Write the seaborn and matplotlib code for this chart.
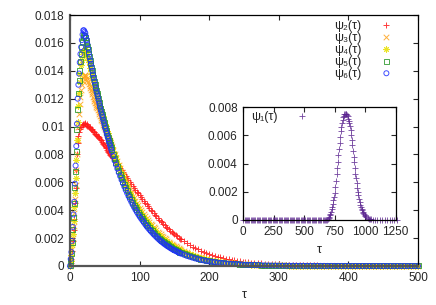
import numpy as np
import seaborn as sns
import matplotlib
matplotlib.use("Agg")
import matplotlib.pyplot as plt
from matplotlib.ticker import FuncFormatter

# main plot: tau grid, step 1 near the peak, coarser in the tail
tau = np.concatenate([np.arange(0, 61), np.arange(62, 161, 2), np.arange(164, 261, 4), np.arange(265, 501, 5)])

# psi values, in units of 1e-3
psi2 = [0.0, 0.2, 0.5, 1.1, 1.8, 2.6, 3.4, 4.5, 5.6, 6.9, 8.0, 8.8, 9.3, 9.6, 9.8, 9.95, 10.0, 10.1, 10.1, 10.2,
        10.15, 10.25, 10.2, 10.1, 10.15, 10.05, 10.05, 9.95, 9.95, 9.9, 9.85, 9.8, 9.75, 9.7, 9.6, 9.6, 9.5, 9.45, 9.4, 9.35,
        9.3, 9.22, 9.18, 9.1, 9.05, 9.0, 8.9, 8.85, 8.75, 8.7, 8.6, 8.52, 8.45, 8.35, 8.28, 8.2, 8.13, 8.05, 7.99, 7.92,
        7.85,
        7.71, 7.57, 7.43, 7.29, 7.15, 7.01, 6.87, 6.73, 6.59, 6.45, 6.31, 6.17, 6.03, 5.89, 5.75, 5.61, 5.47, 5.34, 5.22, 5.1,
        4.96, 4.82, 4.68, 4.55, 4.42, 4.29, 4.16, 4.04, 3.92, 3.8, 3.68, 3.56, 3.44, 3.33, 3.22, 3.12, 3.01, 2.91, 2.81, 2.72,
        2.63, 2.54, 2.46, 2.37, 2.28, 2.2, 2.12, 2.04, 1.97, 1.9,
        1.76, 1.63, 1.51, 1.39, 1.29, 1.19, 1.1, 1.02, 0.94, 0.87, 0.8, 0.74, 0.68, 0.63, 0.58, 0.53, 0.49, 0.45, 0.42, 0.38,
        0.35, 0.32, 0.3, 0.27, 0.25,
        0.225, 0.205, 0.185, 0.167, 0.151, 0.137, 0.124, 0.112, 0.101, 0.091, 0.082, 0.074, 0.067, 0.06, 0.054, 0.049,
        0.044, 0.04, 0.036, 0.032, 0.029, 0.026, 0.024, 0.021, 0.019, 0.017, 0.016, 0.014, 0.013, 0.011, 0.01, 0.009,
        0.008, 0.007, 0.007, 0.006, 0.005, 0.005, 0.004, 0.004, 0.004, 0.003, 0.003, 0.003, 0.002, 0.002, 0.002, 0.002]
psi3 = [0.0, 0.25, 0.6, 1.2, 2.0, 2.9, 3.8, 4.8, 5.8, 6.9, 8.0, 9.0, 10.0, 10.9, 11.6, 12.1, 12.6, 13.0, 13.3, 13.5,
        13.6, 13.7, 13.7, 13.6, 13.5, 13.35, 13.2, 13.05, 12.9, 12.75, 12.6, 12.45, 12.3, 12.15, 12.0, 11.85, 11.7, 11.55,
        11.4, 11.3, 11.2, 11.06, 10.92, 10.78, 10.64, 10.5, 10.37, 10.24, 10.11, 9.98, 9.85, 9.72, 9.59, 9.46, 9.33, 9.2,
        9.08, 8.96, 8.84, 8.72, 8.6,
        8.32, 8.04, 7.77, 7.51, 7.25, 7.01, 6.77, 6.54, 6.31, 6.08, 5.87, 5.66, 5.45, 5.25, 5.05, 4.87, 4.69, 4.51, 4.34, 4.18,
        4.03, 3.88, 3.73, 3.58, 3.44, 3.3, 3.17, 3.04, 2.92, 2.8, 2.69, 2.58, 2.47, 2.36, 2.26, 2.17, 2.08, 1.99, 1.9, 1.82,
        1.74, 1.67, 1.6, 1.53, 1.46, 1.4, 1.33, 1.27, 1.22, 1.16,
        1.06, 0.97, 0.89, 0.81, 0.74, 0.67, 0.61, 0.56, 0.51, 0.46, 0.42, 0.385, 0.35, 0.32, 0.29, 0.265, 0.242, 0.22, 0.2,
        0.183, 0.167, 0.152, 0.139, 0.127, 0.115,
        0.103, 0.093, 0.083, 0.075, 0.067, 0.06, 0.054, 0.049, 0.044, 0.039, 0.035, 0.032, 0.029, 0.026, 0.023, 0.021,
        0.019, 0.017, 0.015, 0.013, 0.012, 0.011, 0.01, 0.009, 0.008, 0.007, 0.006, 0.006, 0.005, 0.005, 0.004, 0.004,
        0.003, 0.003, 0.003, 0.003, 0.002, 0.002, 0.002, 0.002, 0.002, 0.001, 0.001, 0.001, 0.001, 0.001, 0.001, 0.001]
psi4 = [0.0, 0.35, 0.8, 1.5, 2.3, 3.2, 4.2, 5.2, 6.3, 7.6, 9.0, 10.3, 11.5, 12.4, 13.2, 13.8, 14.4, 14.8, 15.2, 15.4,
        15.5, 15.55, 15.5, 15.35, 15.2, 15.0, 14.8, 14.6, 14.4, 14.2, 14.0, 13.8, 13.6, 13.4, 13.2, 13.0, 12.8, 12.6, 12.4,
        12.2, 12.0, 11.82, 11.64, 11.46, 11.28, 11.1, 10.92, 10.74, 10.56, 10.38, 10.2, 10.03, 9.86, 9.69, 9.52, 9.35,
        9.19, 9.03, 8.87, 8.71, 8.55,
        8.25, 7.95, 7.66, 7.38, 7.1, 6.84, 6.58, 6.33, 6.09, 5.85, 5.63, 5.41, 5.2, 5.0, 4.8, 4.62, 4.44, 4.27, 4.11, 3.95,
        3.8, 3.65, 3.51, 3.37, 3.24, 3.11, 2.98, 2.86, 2.74, 2.63, 2.53, 2.42, 2.32, 2.22, 2.13, 2.04, 1.95, 1.87, 1.79, 1.71,
        1.64, 1.57, 1.5, 1.43, 1.37, 1.31, 1.25, 1.19, 1.14, 1.09,
        1.0, 0.91, 0.83, 0.76, 0.69, 0.63, 0.57, 0.52, 0.47, 0.43, 0.39, 0.355, 0.325, 0.295, 0.27, 0.245, 0.225, 0.205,
        0.187, 0.17, 0.155, 0.141, 0.128, 0.117, 0.106,
        0.095, 0.085, 0.076, 0.068, 0.061, 0.055, 0.049, 0.044, 0.04, 0.036, 0.032, 0.029, 0.026, 0.023, 0.021, 0.019,
        0.017, 0.015, 0.013, 0.012, 0.011, 0.01, 0.009, 0.008, 0.007, 0.006, 0.006, 0.005, 0.005, 0.004, 0.004, 0.003,
        0.003, 0.003, 0.002, 0.002, 0.002, 0.002, 0.002, 0.001, 0.001, 0.001, 0.001, 0.001, 0.001, 0.001, 0.001, 0.001]
psi5 = [0.0, 0.4, 0.9, 1.7, 2.6, 3.5, 4.5, 5.6, 6.8, 8.2, 9.8, 11.2, 12.4, 13.3, 14.0, 14.7, 15.2, 15.7, 16.1, 16.4,
        16.5, 16.5, 16.4, 16.2, 16.0, 15.75, 15.5, 15.25, 15.0, 14.75, 14.5, 14.25, 14.0, 13.75, 13.5, 13.25, 13.0, 12.8,
        12.6, 12.4, 12.2, 11.98, 11.76, 11.54, 11.32, 11.1, 10.9, 10.7, 10.5, 10.3, 10.1, 9.92, 9.74, 9.56, 9.38, 9.2,
        9.03, 8.86, 8.69, 8.52, 8.35,
        8.03, 7.71, 7.41, 7.13, 6.85, 6.59, 6.33, 6.08, 5.84, 5.6, 5.38, 5.16, 4.95, 4.75, 4.55, 4.37, 4.19, 4.02, 3.86, 3.7,
        3.55, 3.4, 3.26, 3.13, 3.0, 2.87, 2.74, 2.62, 2.51, 2.4, 2.3, 2.19, 2.09, 2.0, 1.91, 1.83, 1.74, 1.66, 1.59, 1.52,
        1.45, 1.38, 1.32, 1.26, 1.2, 1.15, 1.1, 1.05, 1.0, 0.95,
        0.87, 0.79, 0.72, 0.66, 0.6, 0.54, 0.49, 0.45, 0.41, 0.37, 0.34, 0.31, 0.28, 0.255, 0.232, 0.212, 0.193, 0.176,
        0.16, 0.146, 0.133, 0.121, 0.11, 0.1, 0.091,
        0.081, 0.072, 0.065, 0.058, 0.052, 0.046, 0.041, 0.037, 0.033, 0.029, 0.026, 0.023, 0.021, 0.019, 0.017, 0.015,
        0.013, 0.012, 0.011, 0.01, 0.009, 0.008, 0.007, 0.006, 0.006, 0.005, 0.005, 0.004, 0.004, 0.003, 0.003, 0.003,
        0.002, 0.002, 0.002, 0.002, 0.002, 0.001, 0.001, 0.001, 0.001, 0.001, 0.001, 0.001, 0.001, 0.0, 0.0, 0.0]
psi6 = [0.0, 0.5, 1.0, 1.8, 2.8, 3.7, 4.6, 5.9, 7.2, 8.6, 10.2, 12.0, 13.0, 13.8, 14.6, 15.2, 15.7, 16.2, 16.6, 16.9,
        16.9, 16.8, 16.7, 16.45, 16.2, 15.9, 15.6, 15.3, 15.0, 14.75, 14.5, 14.25, 14.0, 13.75, 13.5, 13.25, 13.0, 12.75,
        12.5, 12.3, 12.1, 11.87, 11.65, 11.43, 11.21, 11.0, 10.8, 10.6, 10.4, 10.2, 10.0, 9.82, 9.64, 9.46, 9.28, 9.1,
        8.92, 8.74, 8.56, 8.38, 8.2,
        7.88, 7.56, 7.26, 6.98, 6.7, 6.44, 6.18, 5.93, 5.69, 5.45, 5.23, 5.01, 4.8, 4.6, 4.4, 4.22, 4.04, 3.87, 3.71, 3.55,
        3.41, 3.27, 3.13, 2.99, 2.85, 2.73, 2.61, 2.5, 2.39, 2.28, 2.18, 2.08, 1.98, 1.89, 1.8, 1.72, 1.64, 1.56, 1.49, 1.42,
        1.36, 1.29, 1.23, 1.17, 1.12, 1.07, 1.02, 0.97, 0.92, 0.88,
        0.8, 0.72, 0.66, 0.6, 0.54, 0.49, 0.44, 0.4, 0.36, 0.33, 0.3, 0.27, 0.25, 0.225, 0.205, 0.185, 0.17, 0.155, 0.14,
        0.128, 0.116, 0.105, 0.095, 0.087, 0.079,
        0.07, 0.063, 0.056, 0.05, 0.045, 0.04, 0.036, 0.032, 0.028, 0.025, 0.022, 0.02, 0.018, 0.016, 0.014, 0.012,
        0.011, 0.01, 0.009, 0.008, 0.007, 0.006, 0.006, 0.005, 0.005, 0.004, 0.004, 0.003, 0.003, 0.003, 0.002, 0.002,
        0.002, 0.002, 0.002, 0.001, 0.001, 0.001, 0.001, 0.001, 0.001, 0.001, 0.0, 0.0, 0.0, 0.0, 0.0, 0.0]

# inset: psi1 over a longer tau range
tau1 = np.concatenate([np.arange(0, 681, 10), np.arange(690, 1001, 5), np.arange(1010, 1061, 10),
                       np.arange(1080, 1261, 20)])
psi1 = [0.0, 0.0, 0.0, 0.0, 0.0, 0.0, 0.0, 0.0, 0.0, 0.0, 0.0, 0.0, 0.0, 0.0, 0.0, 0.0, 0.0, 0.0, 0.0, 0.0,
        0.0, 0.0, 0.0, 0.0, 0.0, 0.0, 0.0, 0.0, 0.0, 0.0, 0.0, 0.0, 0.0, 0.0, 0.0, 0.0, 0.0, 0.0, 0.0, 0.0,
        0.0, 0.0, 0.0, 0.0, 0.0, 0.0, 0.0, 0.0, 0.0, 0.0, 0.0, 0.0, 0.0, 0.0, 0.0, 0.0, 0.0, 0.0, 0.0, 0.0,
        0.0, 0.0, 0.0, 0.0, 0.0, 0.0, 0.0, 0.0, 0.0,
        0.0, 0.05, 0.15, 0.22, 0.32, 0.45, 0.6, 0.75, 0.95, 1.15, 1.4, 1.65, 1.95, 2.35, 2.8, 3.25, 3.7, 4.15, 4.6,
        5.05, 5.5, 5.9, 6.3, 6.6, 6.9, 7.1, 7.3, 7.4, 7.5, 7.55, 7.55, 7.5, 7.45, 7.35, 7.2, 7.05, 6.9, 6.65, 6.4,
        6.05, 5.7, 5.3, 4.9, 4.5, 4.1, 3.7, 3.3, 2.95, 2.6, 2.3, 2.0, 1.75, 1.5, 1.3, 1.1, 0.95, 0.8, 0.7, 0.6,
        0.5, 0.42, 0.36, 0.3,
        0.21, 0.15, 0.1, 0.07, 0.05, 0.035,
        0.02, 0.012, 0.008, 0.005, 0.003, 0.002, 0.001, 0.001, 0.0, 0.0]

for arr in (psi2, psi3, psi4, psi5, psi6):
    assert len(arr) == len(tau), (len(arr), len(tau))
assert len(psi1) == len(tau1), (len(psi1), len(tau1))

series = [
    ("ψ₂(τ)", psi2, "+", "#ff1a1a"),
    ("ψ₃(τ)", psi3, "x", "#ffa31a"),
    ("ψ₄(τ)", psi4, (8, 2, 0), "#e8e000"),
    ("ψ₅(τ)", psi5, "s", "#2e9a2e"),
    ("ψ₆(τ)", psi6, "o", "#1f2fff"),
]

sns.set_style("ticks")
plt.rcParams['font.family'] = ['Liberation Sans', 'DejaVu Sans']
plt.rcParams['xtick.direction'] = 'in'
plt.rcParams['ytick.direction'] = 'in'

fig = plt.figure(figsize=(4.36, 3.05), dpi=100)
ax = fig.add_axes([0.1606, 0.1279, 0.7982, 0.8229])

for name, vals, mk, col in series:
    y = np.array(vals) * 1e-3
    if mk in ("s", "o"):
        sns.scatterplot(x=tau, y=y, marker=mk, s=13, facecolor="none", edgecolor=col,
                        linewidth=0.7, alpha=0.85, label=name, ax=ax, clip_on=False)
    else:
        sns.scatterplot(x=tau, y=y, marker=mk, s=16, color=col, linewidth=0.7,
                        alpha=0.85, label=name, ax=ax, clip_on=False)

ax.set_xlim(0, 500)
ax.set_ylim(0, 0.018)
ax.set_xticks(np.arange(0, 501, 100))
ax.set_yticks(np.arange(0, 0.0181, 0.002))
ax.yaxis.set_major_formatter(FuncFormatter(lambda v, p: "%g" % round(v, 4)))
ax.tick_params(labelsize=8.5, length=3.5, width=0.8, top=True, right=True, pad=4)
ax.set_xlabel("τ", fontsize=9, labelpad=4)
ax.set_ylabel("")
for s in ["left", "bottom"]:
    ax.spines[s].set_color("#555555")
    ax.spines[s].set_linewidth(1.6)
for s in ["top", "right"]:
    ax.spines[s].set_color("black")
    ax.spines[s].set_linewidth(0.9)
ax.legend(loc="upper right", bbox_to_anchor=(0.927, 0.982), markerfirst=False, frameon=False,
          fontsize=9, handlelength=1.0, handletextpad=1.5, labelspacing=0.0,
          borderpad=0, borderaxespad=0)

# inset
axin = fig.add_axes([0.558, 0.2787, 0.3495, 0.3695])
sns.scatterplot(x=tau1, y=np.array(psi1) * 1e-3, marker="+", s=14, color="#5b2490",
                linewidth=0.6, alpha=0.85, label="ψ₁(τ)", ax=axin, clip_on=False)
axin.set_xlim(0, 1250)
axin.set_ylim(0, 0.008)
axin.set_xticks(np.arange(0, 1251, 250))
axin.set_yticks(np.arange(0, 0.0081, 0.002))
axin.yaxis.set_major_formatter(FuncFormatter(lambda v, p: "%g" % round(v, 4)))
axin.tick_params(labelsize=8.5, length=3.5, width=0.8, top=True, right=True, pad=4)
axin.set_xlabel("τ", fontsize=9, labelpad=5)
axin.set_ylabel("")
for s in axin.spines.values():
    s.set_color("black")
    s.set_linewidth(0.9)
axin.legend(loc="upper right", bbox_to_anchor=(0.428, 0.97), markerfirst=False, frameon=False,
            fontsize=9, handlelength=1.0, handletextpad=1.5, borderpad=0, borderaxespad=0)

fig.savefig("out.png", dpi=100)
